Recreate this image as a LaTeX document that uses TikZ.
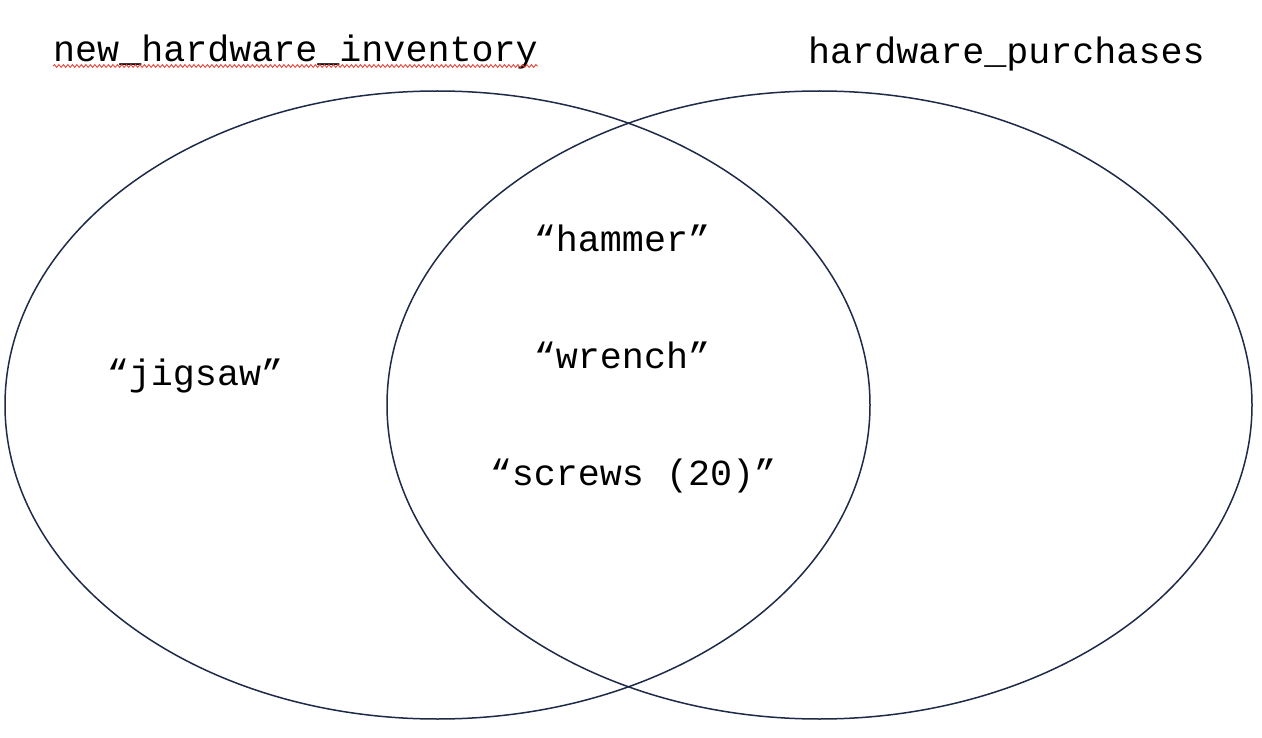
\documentclass[tikz,border=0pt]{standalone}
\usepackage{fontspec}
\setmainfont{Liberation Mono}
\usetikzlibrary{decorations.pathmorphing}
\definecolor{navy}{HTML}{1F2A48}
\definecolor{squig}{HTML}{E8453C}
\begin{document}
\begin{tikzpicture}[x=1pt,y=-1pt,
  setring/.style={draw=navy,line width=1.5pt},
  lbl/.style={font=\fontsize{36.7}{40}\selectfont,anchor=base,inner sep=0pt,text=black},
  title/.style={lbl,anchor=base west}]
\useasboundingbox (0,0) rectangle (1262,738);
\draw[setring] (437.5,405) ellipse [x radius=432.5, y radius=314];
\draw[setring] (819.5,405) ellipse [x radius=432.5, y radius=314];
\node[title] (tl) at (53,62) {new\_hardware\_inventory};
\node[title] (tr) at (808,64) {hardware\_purchases};
\draw[squig,line width=0.9pt,decorate,decoration={snake,amplitude=1.4pt,segment length=4.5pt}]
  ([yshift=-4pt]tl.base west) -- ([yshift=-4pt]tl.base east);
\node[lbl] (j) at (195,385) {“jigsaw”};
\node[lbl] (h) at (622,252) {“hammer”};
\node[lbl] (w) at (622,368) {“wrench”};
\node[lbl] (s) at (633,485) {“screws (20)”};
\end{tikzpicture}
\end{document}
